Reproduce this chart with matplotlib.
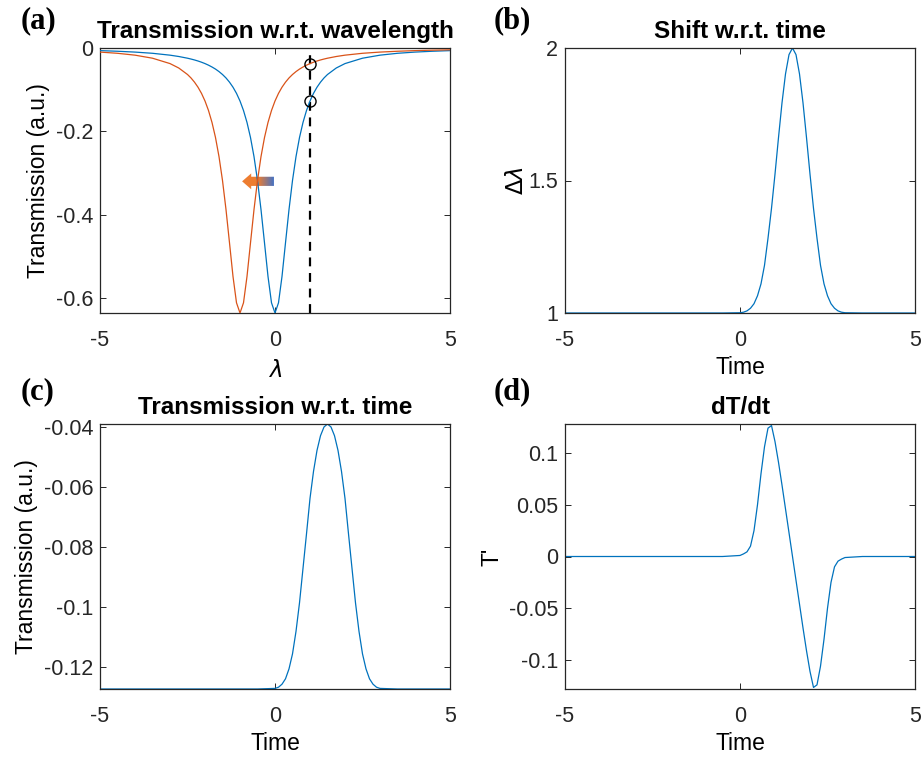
import numpy as np
import matplotlib
matplotlib.use('Agg')
import matplotlib.pyplot as plt
from matplotlib.colors import LinearSegmentedColormap
from matplotlib.patches import Polygon

plt.rcParams['font.family'] = ['Liberation Sans', 'DejaVu Sans']
plt.rcParams['axes.unicode_minus'] = False

# ---- data ----
# (a) transmission vs wavelength
lam = [-5.0, -4.5, -4.0, -3.5, -3.0, -2.75, -2.5, -2.4, -2.3, -2.2, -2.1, -2.0,
       -1.9, -1.8, -1.7, -1.6, -1.5, -1.4, -1.3, -1.2, -1.1, -1.0, -0.9, -0.8,
       -0.7, -0.6, -0.5, -0.4, -0.3, -0.2, -0.1, 0.0, 0.1, 0.2, 0.3, 0.4, 0.5,
       0.6, 0.7, 0.8, 0.9, 1.0, 1.1, 1.2, 1.3, 1.4, 1.5, 1.75, 2.0, 2.5, 3.0,
       3.5, 4.0, 4.5, 5.0]
trans_blue = [-0.0063, -0.0078, -0.0098, -0.0127, -0.0172, -0.0204, -0.0245,
              -0.0265, -0.0287, -0.0312, -0.0341, -0.0374, -0.0412, -0.0456,
              -0.0506, -0.0566, -0.0636, -0.0719, -0.0820, -0.0941, -0.1089,
              -0.1272, -0.1500, -0.1787, -0.2149, -0.2607, -0.3180, -0.3878,
              -0.4676, -0.5483, -0.6115, -0.6360, -0.6115, -0.5483, -0.4676,
              -0.3878, -0.3180, -0.2607, -0.2149, -0.1787, -0.1500, -0.1272,
              -0.1089, -0.0941, -0.0820, -0.0719, -0.0636, -0.0480, -0.0374,
              -0.0245, -0.0172, -0.0127, -0.0098, -0.0078, -0.0063]
trans_orange = [-0.0098, -0.0127, -0.0172, -0.0245, -0.0374, -0.0480, -0.0636,
                -0.0719, -0.0820, -0.0941, -0.1089, -0.1272, -0.1500, -0.1787,
                -0.2149, -0.2607, -0.3180, -0.3878, -0.4676, -0.5483, -0.6115,
                -0.6360, -0.6115, -0.5483, -0.4676, -0.3878, -0.3180, -0.2607,
                -0.2149, -0.1787, -0.1500, -0.1272, -0.1089, -0.0941, -0.0820,
                -0.0719, -0.0636, -0.0566, -0.0506, -0.0456, -0.0412, -0.0374,
                -0.0341, -0.0312, -0.0287, -0.0265, -0.0245, -0.0204, -0.0172,
                -0.0127, -0.0098, -0.0078, -0.0063, -0.0052, -0.0044]
probe_lam = 1.0
probe_vals = [-0.0374, -0.1272]

# (b)-(d) quantities vs time
t = [-5.0, -4.0, -3.0, -2.0, -1.0, -0.5, 0.0, 0.1, 0.2, 0.3, 0.4, 0.5, 0.6, 0.7,
     0.8, 0.9, 1.0, 1.1, 1.2, 1.3, 1.4, 1.5, 1.6, 1.7, 1.8, 1.9, 2.0, 2.1, 2.2,
     2.3, 2.4, 2.5, 2.6, 2.7, 2.8, 2.9, 3.0, 3.5, 4.0, 5.0]
shift = [1.0, 1.0, 1.0, 1.0, 1.0, 1.0, 1.001, 1.003, 1.008, 1.018, 1.035, 1.065,
         1.11, 1.18, 1.282, 1.395, 1.524, 1.662, 1.793, 1.902, 1.975, 2.0, 1.975,
         1.902, 1.793, 1.662, 1.524, 1.395, 1.282, 1.18, 1.11, 1.065, 1.035,
         1.018, 1.008, 1.003, 1.001, 1.0, 1.0, 1.0]
trans_t = [-0.1272, -0.1272, -0.1272, -0.1272, -0.1272, -0.1272, -0.1270,
           -0.1266, -0.1256, -0.1238, -0.1205, -0.1155, -0.1080, -0.0985,
           -0.0870, -0.0755, -0.0637, -0.0547, -0.0477, -0.0428, -0.0399,
           -0.0389, -0.0399, -0.0428, -0.0477, -0.0547, -0.0637, -0.0755,
           -0.0870, -0.0985, -0.1080, -0.1155, -0.1205, -0.1238, -0.1256,
           -0.1266, -0.1270, -0.1272, -0.1272, -0.1272]
dtrans = [0.0, 0.0, 0.0, 0.0, 0.0, 0.0, 0.001, 0.0025, 0.0045, 0.010, 0.025,
          0.050, 0.080, 0.106, 0.124, 0.1265, 0.111, 0.091, 0.069, 0.046, 0.023,
          0.0, -0.023, -0.046, -0.069, -0.091, -0.111, -0.1265, -0.124, -0.106,
          -0.080, -0.050, -0.025, -0.010, -0.0045, -0.0025, -0.001, 0.0, 0.0, 0.0]

BLUE = '#0072BD'
ORANGE = '#D95319'
FRAME = '#262626'
TICK_FS = 15.5
LABEL_FS = 16.5
TITLE_FS = 17.5
LW = 0.9

fig = plt.figure(figsize=(9.22, 7.61), dpi=100)


def make_axes(rect, title):
    ax = fig.add_axes(rect)
    ax.set_title(title, fontsize=TITLE_FS, fontweight='bold', pad=7)
    ax.tick_params(direction='in', top=True, right=True, length=4, width=0.7,
                   colors=FRAME, labelsize=TICK_FS, labelcolor='#262626')
    ax.tick_params(axis='x', pad=12)
    ax.tick_params(axis='y', pad=5)
    for sp in ax.spines.values():
        sp.set_color(FRAME)
        sp.set_linewidth(0.9)
    ax.set_xlim(-5, 5)
    ax.set_xticks([-5, 0, 5])
    return ax


W = 350 / 922
H = 265 / 761
xl, xr = 100 / 922, 565 / 922
yt, yb = 1 - 313 / 761, 1 - 689 / 761

# (a)
ax1 = make_axes([xl, yt, W, H], 'Transmission w.r.t. wavelength')
ax1.plot(lam, trans_blue, color=BLUE, lw=LW, zorder=3)
ax1.plot(lam, trans_orange, color=ORANGE, lw=LW, zorder=3)
ax1.axvline(probe_lam, color='k', ls=(0, (4, 3)), lw=1.6, zorder=2)
ax1.plot([probe_lam] * 2, probe_vals, 'o', mfc='none', mec='k', ms=8, mew=1.0, zorder=4)
ax1.set_ylim(min(trans_blue), 0)
ax1.set_yticks([-0.6, -0.4, -0.2, 0])
ax1.set_yticklabels(['-0.6', '-0.4', '-0.2', '0'])
ax1.set_xlabel(r'$\lambda$', fontsize=LABEL_FS, labelpad=6)
ax1.set_ylabel('Transmission (a.u.)', fontsize=LABEL_FS, labelpad=4)

# gradient arrow (orange tip -> blue tail)
tip, tail, yc = -0.94, -0.03, -0.32
hb = -0.68
arrow = Polygon([(tip, yc), (hb, yc + 0.019), (hb, yc + 0.011), (tail, yc + 0.011),
                 (tail, yc - 0.011), (hb, yc - 0.011), (hb, yc - 0.019)],
                closed=True, facecolor='none', edgecolor='none', transform=ax1.transData)
ax1.add_patch(arrow)
cmap = LinearSegmentedColormap.from_list('arr', ['#ED7D31', '#ED7D31', '#4472C4'])
grad = np.linspace(0, 1, 256).reshape(1, -1)
img = ax1.imshow(grad, cmap=cmap, extent=[tip, tail, yc - 0.02, yc + 0.02],
                 aspect='auto', zorder=2.5, interpolation='bilinear')
img.set_clip_path(arrow)
ax1.set_xlim(-5, 5)
ax1.set_ylim(min(trans_blue), 0)

# (b)
ax2 = make_axes([xr, yt, W, H], 'Shift w.r.t. time')
ax2.plot(t, shift, color=BLUE, lw=LW)
ax2.set_ylim(1, 2)
ax2.set_yticks([1, 1.5, 2])
ax2.set_yticklabels(['1', '1.5', '2'])
ax2.set_xlabel('Time', fontsize=LABEL_FS, labelpad=4)
ax2.set_ylabel(r'$\Delta\lambda$', fontsize=LABEL_FS, labelpad=0)

# (c)
ax3 = make_axes([xl, yb, W, H], 'Transmission w.r.t. time')
ax3.plot(t, trans_t, color=BLUE, lw=LW)
ax3.set_ylim(min(trans_t), max(trans_t))
ax3.set_yticks([-0.12, -0.1, -0.08, -0.06, -0.04])
ax3.set_yticklabels(['-0.12', '-0.1', '-0.08', '-0.06', '-0.04'])
ax3.set_xlabel('Time', fontsize=LABEL_FS, labelpad=4)
ax3.set_ylabel('Transmission (a.u.)', fontsize=LABEL_FS, labelpad=4)

# (d)
ax4 = make_axes([xr, yb, W, H], 'dT/dt')
ax4.plot(t, dtrans, color=BLUE, lw=LW)
ax4.set_ylim(-0.128, 0.128)
ax4.set_yticks([-0.1, -0.05, 0, 0.05, 0.1])
ax4.set_yticklabels(['-0.1', '-0.05', '0', '0.05', '0.1'])
ax4.set_xlabel('Time', fontsize=LABEL_FS, labelpad=4)
ax4.set_ylabel("T'", fontsize=LABEL_FS, labelpad=4)

# panel letters
for txt, x, y in [('(a)', 21, 21), ('(b)', 494, 21), ('(c)', 21, 392), ('(d)', 494, 392)]:
    fig.text(x / 922, 1 - y / 761, txt, fontsize=22, fontweight='bold',
             family='Liberation Serif', ha='left', va='center')

fig.savefig('out.png', dpi=100)
